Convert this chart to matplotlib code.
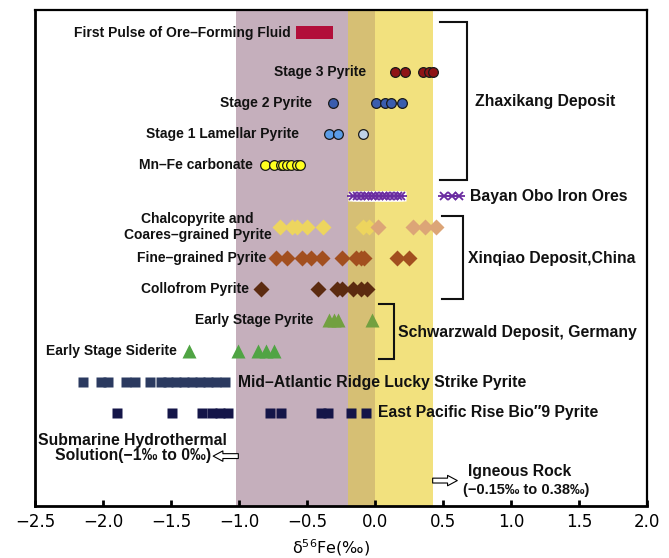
import matplotlib
matplotlib.use("Agg")
import matplotlib.pyplot as plt

# ---------------- data (delta56Fe, permil) ----------------
first_pulse_range = [-0.58, -0.31]
stage3_pyrite = [0.15, 0.22, 0.35, 0.40, 0.43]
stage2_pyrite = [-0.31, 0.01, 0.07, 0.12, 0.20]
stage1_pyrite_a = [-0.335, -0.275]
stage1_pyrite_b = [-0.09]
mnfe_carbonate = [-0.81, -0.74, -0.69, -0.675, -0.65, -0.62, -0.575, -0.55]
bayan_obo = [-0.16, -0.13, -0.10, -0.075, -0.05, -0.02, 0.0, 0.03, 0.06, 0.08,
             0.11, 0.14, 0.17, 0.19, 0.51, 0.565, 0.62]
chalco_yellow = [-0.70, -0.61, -0.57, -0.50, -0.38, -0.09, -0.045]
chalco_peach = [0.02, 0.28, 0.37, 0.45]
fine_grained = [-0.73, -0.65, -0.54, -0.47, -0.39, -0.245, -0.14, -0.105,
                -0.08, 0.16, 0.25]
collofrom = [-0.84, -0.42, -0.28, -0.245, -0.16, -0.105, -0.06]
early_pyrite = [-0.34, -0.30, -0.27, -0.02]
early_siderite = [-1.365, -1.005, -0.86, -0.80, -0.74]
mar_lucky_strike = [-2.147, -2.017, -1.963, -1.828, -1.762, -1.654, -1.576,
                    -1.52, -1.463, -1.405, -1.345, -1.287, -1.228, -1.17, -1.10]
epr_bio9 = [-1.90, -1.495, -1.27, -1.20, -1.14, -1.08, -0.77, -0.69,
            -0.40, -0.345, -0.18, -0.066]

submarine_range = [-1.02, 0.0]
igneous_range = [-0.2, 0.43]
xticks = [-2.5, -2.0, -1.5, -1.0, -0.5, 0.0, 0.5, 1.0, 1.5, 2.0]

row_labels = ["First Pulse of Ore\u2013Forming Fluid", "Stage 3 Pyrite", "Stage 2 Pyrite",
              "Stage 1 Lamellar Pyrite", "Mn\u2013Fe carbonate", None,
              "Chalcopyrite and\nCoares\u2013grained Pyrite", "Fine\u2013grained Pyrite",
              "Collofrom Pyrite", "Early Stage Pyrite", "Early Stage Siderite", None, None]

# ---------------- layout ----------------
rows = [-0.26, 1, 2, 3, 4, 5, 6, 7, 8, 9, 10, 11, 12]
label_x = [-0.62, -0.066, -0.46, -0.56, -0.90, None, -0.76, -0.80, -0.93, -0.45, -1.46, None, None]

fig = plt.figure(figsize=(6.69, 5.58), dpi=100)
ax = fig.add_axes([35/669, 52/558, 612/669, 496/558])
ax.set_xlim(-2.5, 2.0)
ax.set_ylim(15.0, -1.0)

# background bands
ax.axvspan(submarine_range[0], igneous_range[0], color="#C5AFBC", lw=0, zorder=0)
ax.axvspan(igneous_range[0], submarine_range[1], color="#D6BF74", lw=0, zorder=0)
ax.axvspan(submarine_range[1], igneous_range[1], color="#F2E17E", lw=0, zorder=0)

# first pulse bar
ax.barh(rows[0], first_pulse_range[1] - first_pulse_range[0], left=first_pulse_range[0],
        height=0.42, color="#B20E3A", zorder=2)

def circ(xs, y, fc):
    ax.plot(xs, [y]*len(xs), "o", ms=7.0, mfc=fc, mec="#1a1a1a", mew=0.9, ls="none", zorder=3)

circ(stage3_pyrite, rows[1], "#8E1316")
circ(stage2_pyrite, rows[2], "#3A5DAE")
circ(stage1_pyrite_a, rows[3], "#5A9CE6")
circ(stage1_pyrite_b, rows[3], "#BFD1E6")
circ(mnfe_carbonate, rows[4], "#FFFF1E")

# Bayan Obo
ax.plot(bayan_obo[:14], [rows[5]]*14, "s", ms=7, mfc="white", mec="none", ls="none", zorder=3)
ax.plot(bayan_obo, [rows[5]]*len(bayan_obo), "x", ms=6, mec="#6A2BA0", mew=1.3, ls="none", zorder=4)
ax.plot(bayan_obo, [rows[5]]*len(bayan_obo), "_", ms=8, mec="#6A2BA0", mew=1.3, ls="none", zorder=4)

def diam(xs, y, fc):
    ax.plot(xs, [y]*len(xs), "D", ms=7.8, mfc=fc, mec="none", ls="none", zorder=3)

diam(chalco_yellow, rows[6], "#EDD55E")
diam(chalco_peach, rows[6], "#DCA577")
diam(fine_grained, rows[7], "#A24F1F")
diam(collofrom, rows[8], "#5C2B10")

ax.plot(early_pyrite, [rows[9]]*len(early_pyrite), "^", ms=10.5, mfc="#72A040", mec="none", ls="none", zorder=3)
ax.plot(early_siderite, [rows[10]]*len(early_siderite), "^", ms=10.5, mfc="#50A444", mec="none", ls="none", zorder=3)

ax.plot(mar_lucky_strike, [rows[11]]*len(mar_lucky_strike), "s", ms=7.3, mfc="#2B3A60", mec="none", ls="none", zorder=3)
ax.plot(epr_bio9, [rows[12]]*len(epr_bio9), "s", ms=7.3, mfc="#141548", mec="none", ls="none", zorder=3)

# row labels
bold = dict(family="Liberation Sans", weight="bold", color="#111111")
for lab, lx, ry in zip(row_labels, label_x, rows):
    if lab is None:
        continue
    ax.text(lx, ry, lab, ha="right", va="center", fontsize=10, multialignment="center",
            linespacing=1.12, **bold)

# group labels
ax.text(0.735, 1.94, "Zhaxikang Deposit", ha="left", va="center", fontsize=11.3, **bold)
ax.text(0.70, 5.0, "Bayan Obo Iron Ores", ha="left", va="center", fontsize=11.3, **bold)
ax.text(0.684, 7.03, "Xinqiao Deposit,China", ha="left", va="center", fontsize=11.3, **bold)
ax.text(0.17, 9.40, "Schwarzwald Deposit, Germany", ha="left", va="center", fontsize=11.3, **bold)
ax.text(-1.005, 11.0, "Mid\u2013Atlantic Ridge Lucky Strike Pyrite", ha="left", va="center", fontsize=11.3, **bold)
ax.text(0.024, 12.0, "East Pacific Rise Bio\u20339 Pyrite", ha="left", va="center", fontsize=11.3, **bold)

# brackets
def bracket(x0, x1, y0, y1):
    ax.plot([x0, x1, x1, x0], [y0, y0, y1, y1], color="#111111", lw=1.5, zorder=5,
            solid_joinstyle="miter")

bracket(0.478, 0.68, -0.62, 4.48)
bracket(0.49, 0.65, 5.65, 8.33)
bracket(0.03, 0.14, 8.49, 10.26)

# annotation texts and hollow arrows
ax.text(-1.78, 13.13, "Submarine Hydrothermal\nSolution(\u22121\u2030 to 0\u2030)", ha="center",
        va="center", fontsize=11.3, linespacing=1.0, **bold)
ax.annotate("", xy=(-1.19, 13.39), xytext=(-1.005, 13.39),
            arrowprops=dict(arrowstyle="simple,head_length=0.7,head_width=0.75,tail_width=0.35",
                            fc="white", ec="black", lw=0.8, shrinkA=0, shrinkB=0))
ax.text(0.687, 13.89, "Igneous Rock", ha="left", va="center", fontsize=11.3, **bold)
ax.text(0.647, 14.48, "(\u22120.15\u2030 to 0.38\u2030)", ha="left", va="center", fontsize=10.5, **bold)
ax.annotate("", xy=(0.605, 14.18), xytext=(0.424, 14.18),
            arrowprops=dict(arrowstyle="simple,head_length=0.7,head_width=0.75,tail_width=0.35",
                            fc="white", ec="black", lw=0.8, shrinkA=0, shrinkB=0))

# axes styling
ax.set_yticks([])
ax.set_xticks(xticks)
ax.set_xticklabels([f"{t:.1f}".replace("-", "\u2212") for t in xticks], fontsize=12,
                   family="DejaVu Sans")
ax.tick_params(axis="x", direction="in", length=4, width=2, pad=5)
for s in ["bottom", "left"]:
    ax.spines[s].set_linewidth(2.0)
for s in ["top", "right"]:
    ax.spines[s].set_linewidth(1.6)
ax.set_xlabel("\u03b4$^{56}$Fe(\u2030)", fontsize=11.5, family="DejaVu Sans")
ax.xaxis.label.set_va("center")
ax.xaxis.set_label_coords(0.484, -0.083)

fig.savefig("out.png", dpi=100)
